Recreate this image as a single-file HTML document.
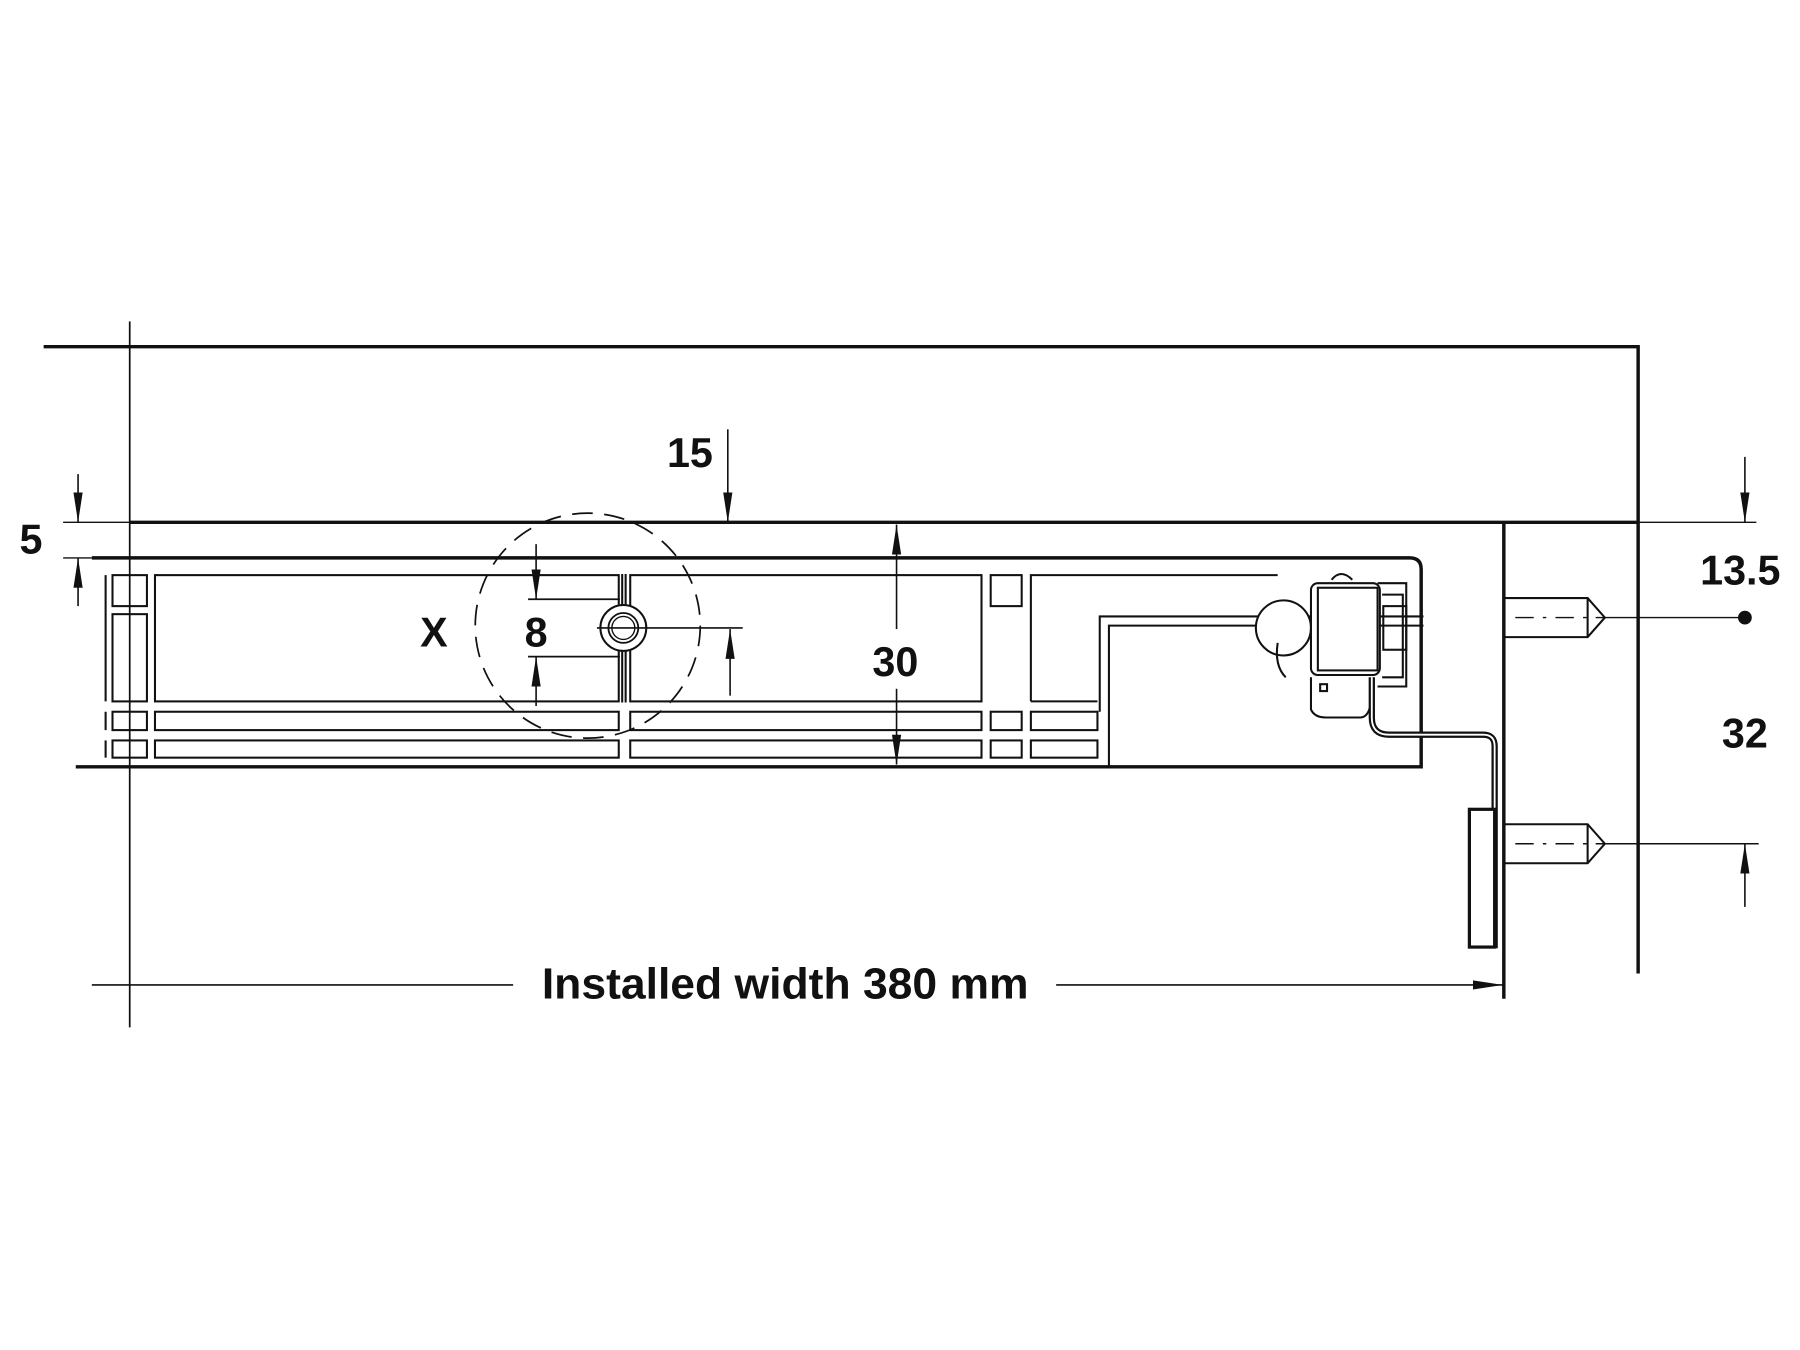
<!DOCTYPE html>
<html><head><meta charset="utf-8"><style>html,body{margin:0;padding:0;background:#fff}svg{display:block}text{font-family:"Liberation Sans",Arial,sans-serif;font-weight:bold;fill:#111}</style></head>
<body>
<svg width="1800" height="1350" viewBox="0 0 1568 1176" xmlns="http://www.w3.org/2000/svg">
<defs>
<marker id="b" viewBox="0 0 10 10" refX="10" refY="5" markerWidth="26" markerHeight="10" markerUnits="userSpaceOnUse" orient="auto" preserveAspectRatio="none"><path d="M0,1 L10,5 L0,9 Z" fill="#111"/></marker>
</defs>
<g stroke="#111" fill="none">
<path d="M38,302 H1427 V848" stroke-width="3"/>
<line x1="113" y1="280" x2="113" y2="895" stroke-width="1.5"/>
<line x1="55" y1="455" x2="113" y2="455" stroke-width="1.2"/>
<line x1="113" y1="455" x2="1427" y2="455" stroke-width="3"/>
<line x1="1427" y1="455" x2="1530" y2="455" stroke-width="1.2"/>
<line x1="1310" y1="455" x2="1310" y2="870" stroke-width="3"/>
<line x1="55" y1="486" x2="80" y2="486" stroke-width="1.2"/>
<path d="M80,486 H1228 Q1238,486 1238,496 V668 H66" stroke-width="3"/>
<g stroke-width="1.8">
<line x1="92" y1="501" x2="92" y2="611"/>
<rect x="98" y="501" width="30" height="27"/><rect x="98" y="535" width="30" height="76"/>
<rect x="135" y="501" width="404" height="110"/><rect x="549" y="501" width="306" height="110"/>
<rect x="863" y="501" width="27" height="27"/>
<path d="M898,611 V501 H1113"/>
<path d="M898,611 H956"/>
<line x1="92" y1="620" x2="92" y2="636"/><line x1="92" y1="645" x2="92" y2="660"/>
<rect x="98" y="620" width="30" height="16"/><rect x="98" y="645" width="30" height="15"/>
<rect x="135" y="620" width="404" height="16"/><rect x="135" y="645" width="404" height="15"/>
<rect x="549" y="620" width="306" height="16"/><rect x="549" y="645" width="306" height="15"/>
<rect x="863" y="620" width="27" height="16"/><rect x="863" y="645" width="27" height="15"/>
<rect x="898" y="620" width="58" height="16"/><rect x="898" y="645" width="58" height="15"/>
<path d="M958,620 V537 H1240"/>
<path d="M966,668 V545 H1240"/>
<line x1="542" y1="500" x2="542" y2="612"/><line x1="545" y1="500" x2="545" y2="612"/>
</g>
<circle cx="543" cy="547" r="20" stroke-width="1.8" fill="#fff"/>
<circle cx="543" cy="547" r="13" stroke-width="1.6"/>
<circle cx="543" cy="547" r="10" stroke-width="1.2"/>
<line x1="520" y1="547" x2="647" y2="547" stroke-width="1.4"/>
<circle cx="512" cy="545" r="98" stroke-width="1.5" stroke-dasharray="18,10"/>
<line x1="460" y1="522" x2="540" y2="522" stroke-width="1.6"/>
<line x1="460" y1="572" x2="540" y2="572" stroke-width="1.6"/>
<line x1="467" y1="474" x2="467" y2="522" stroke-width="1.4" marker-end="url(#b)"/>
<line x1="467" y1="615" x2="467" y2="572" stroke-width="1.4" marker-end="url(#b)"/>
<line x1="636" y1="606" x2="636" y2="548" stroke-width="1.4" marker-end="url(#b)"/>
<line x1="68" y1="413" x2="68" y2="455" stroke-width="1.4" marker-end="url(#b)"/>
<line x1="68" y1="528" x2="68" y2="486" stroke-width="1.4" marker-end="url(#b)"/>
<line x1="634" y1="374" x2="634" y2="455" stroke-width="1.4" marker-end="url(#b)"/>
<line x1="781" y1="548" x2="781" y2="457" stroke-width="1.4" marker-end="url(#b)"/>
<line x1="781" y1="600" x2="781" y2="666" stroke-width="1.4" marker-end="url(#b)"/>
<g stroke-width="1.8">
<circle cx="1118" cy="547" r="24" fill="#fff"/>
<path d="M1113,560 Q1110,580 1120,590" />
<rect x="1142" y="508" width="60" height="80" rx="6" fill="#fff"/>
<rect x="1148" y="512" width="52" height="72"/>
<path d="M1200,508 H1225 V598 H1200"/>
<path d="M1204,518 H1222 V590 H1204"/>
<rect x="1205" y="528" width="20" height="38"/>
<path d="M1142,590 V618 Q1145,625 1155,625 H1185 Q1195,625 1195,600"/>
<path d="M1160,505 Q1168,495 1178,505"/>
<rect x="1150" y="596" width="6" height="6"/>
</g>
<path d="M1195,590 V625 Q1195,640 1210,640 H1292 Q1302,640 1302,650 V826" stroke-width="5.5"/>
<path d="M1195,590 V625 Q1195,640 1210,640 H1292 Q1302,640 1302,650 V826" stroke="#fff" stroke-width="1.6"/>
<rect x="1280" y="705" width="22" height="120" stroke-width="2.8" fill="#fff"/>
<g stroke-width="1.8">
<path d="M1311,521 H1383 L1398,538 L1383,555 H1311"/>
<line x1="1383" y1="521" x2="1383" y2="555"/>
<path d="M1311,718 H1383 L1398,735 L1383,752 H1311"/>
<line x1="1383" y1="718" x2="1383" y2="752"/>
</g>
<line x1="1320" y1="538" x2="1398" y2="538" stroke-width="1.2" stroke-dasharray="16,8,3,8"/>
<line x1="1320" y1="735" x2="1398" y2="735" stroke-width="1.2" stroke-dasharray="16,8,3,8"/>
<line x1="1398" y1="538" x2="1520" y2="538" stroke-width="1.2"/>
<line x1="1398" y1="735" x2="1532" y2="735" stroke-width="1.2"/>
<circle cx="1520" cy="538" r="6" fill="#111" stroke="none"/>
<line x1="1520" y1="398" x2="1520" y2="455" stroke-width="1.4" marker-end="url(#b)"/>
<line x1="1520" y1="790" x2="1520" y2="735" stroke-width="1.4" marker-end="url(#b)"/>
<line x1="80" y1="858" x2="447" y2="858" stroke-width="1.5"/>
<line x1="920" y1="858" x2="1309" y2="858" stroke-width="1.5" marker-end="url(#b)"/>
</g>
<text x="27" y="482" font-size="36" text-anchor="middle">5</text>
<text x="601" y="407" font-size="36" text-anchor="middle">15</text>
<text x="780" y="589" font-size="36" text-anchor="middle">30</text>
<text x="378" y="563" font-size="36" text-anchor="middle">X</text>
<text x="467" y="563" font-size="36" text-anchor="middle">8</text>
<text x="1516" y="509" font-size="36" text-anchor="middle">13.5</text>
<text x="1520" y="651" font-size="36" text-anchor="middle">32</text>
<text x="684" y="870" font-size="38" text-anchor="middle" textLength="424" lengthAdjust="spacingAndGlyphs">Installed width 380 mm</text>
</svg>
</body></html>
